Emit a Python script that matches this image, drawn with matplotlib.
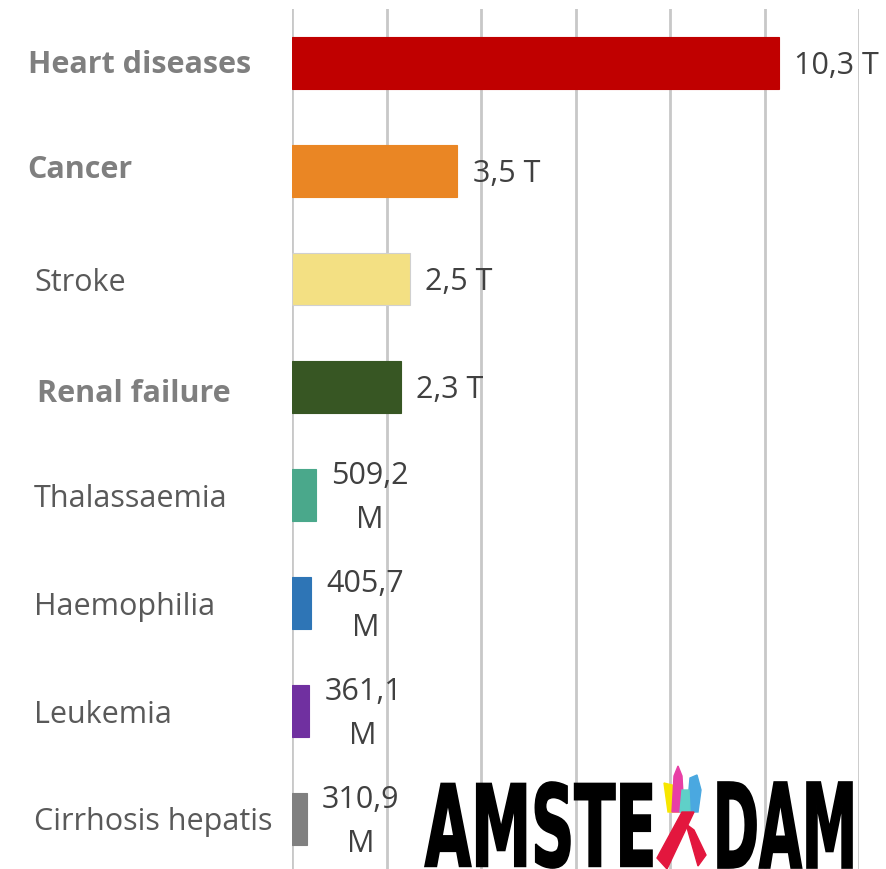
import numpy as np
import matplotlib.pyplot as plt
from matplotlib.transforms import blended_transform_factory, Affine2D, offset_copy
from matplotlib.textpath import TextPath
from matplotlib.font_manager import FontProperties
from matplotlib.patches import PathPatch, Polygon

categories = ['Heart diseases', 'Cancer', 'Stroke', 'Renal failure',
              'Thalassaemia', 'Haemophilia', 'Leukemia', 'Cirrhosis hepatis']
values_t = [10.3, 3.5, 2.5, 2.3, 0.5092, 0.4057, 0.3611, 0.3109]
value_labels = ['10,3 T', '3,5 T', '2,5 T', '2,3 T',
                '509,2\nM', '405,7\nM', '361,1\nM', '310,9\nM']
bold_labels = [True, True, False, True, False, False, False, False]
bar_colors = ['#c00000', '#ea8624', '#f3e083', '#375623',
              '#4aa88b', '#2e75b6', '#7030a0', '#808080']
label_x = [28, 27, 34, 37, 34, 34, 34, 34]
label_dy = [-2, 1, -4, -7, -4, -4, -4, -3]   # px nudges, label vs bar centre

W, H = 886, 869
fig = plt.figure(figsize=(W / 100, H / 100), dpi=100)
ax = fig.add_axes([292 / W, -4 / H, 567 / W, 864 / H])

y = np.arange(len(categories))
edge_colors = ['#d0d0d0' if c == '#f3e083' else c for c in bar_colors]
ax.barh(y, values_t, height=0.49, color=bar_colors,
        edgecolor=edge_colors, linewidth=0.8, zorder=3)
ax.set_xlim(0, 12)
ax.set_ylim(len(categories) - 0.5, -0.5)
ax.set_xticks(np.arange(0, 13, 2))
ax.grid(axis='x', color='#c8c8c8', linewidth=2, zorder=0)
ax.tick_params(left=False, bottom=False, labelleft=False, labelbottom=False)
for s in ax.spines.values():
    s.set_visible(False)

trans = blended_transform_factory(fig.transFigure, ax.transData)
for i, name in enumerate(categories):
    t = offset_copy(trans, fig=fig, y=label_dy[i] * 0.72, units='points')
    ax.text(label_x[i] / W, i, name, transform=t, ha='left', va='center',
            family='Open Sans', fontsize=22,
            fontweight='bold' if bold_labels[i] else 'normal',
            color='#7f7f7f' if bold_labels[i] else '#595959')

for i, (v, lab) in enumerate(zip(values_t, value_labels)):
    ax.annotate(lab, (v, i), xytext=(11, -2), textcoords='offset points',
                ha='left', va='center', multialignment='center',
                family='Open Sans', fontsize=22, color='#404040',
                linespacing=1.6, annotation_clip=False)

# logo overlay (pixel coordinates)
lax = fig.add_axes([0, 0, 1, 1], zorder=5)
lax.set_xlim(0, W)
lax.set_ylim(H, 0)
lax.axis('off')
lax.patch.set_alpha(0)

fp = FontProperties(family='DejaVu Sans', weight='bold')


def put_word(word, left, top, right, bottom):
    p = TextPath((0, 0), word, prop=fp, size=100)
    ext = p.get_extents()
    tr = (Affine2D().translate(-ext.x0, -ext.y0)
          .scale((right - left) / ext.width, -(bottom - top) / ext.height)
          .translate(left, bottom))
    lax.add_patch(PathPatch(tr.transform_path(p), facecolor='black',
                            edgecolor='black', linewidth=1.2))


put_word('AMSTE', 425, 782, 652, 868)
put_word('DAM', 718, 782, 852, 868)

# ribbon with skyline
lax.add_patch(Polygon([(664, 783), (676, 786), (679, 812), (668, 812)],
                      color='#f7e600'))
lax.add_patch(Polygon([(672, 812), (674, 776), (678, 766), (682, 776), (684, 812)],
                      color='#e83fa5'))
lax.add_patch(Polygon([(687, 812), (690, 778), (697, 775), (701, 790), (698, 812)],
                      color='#4aa8e0'))
lax.add_patch(Polygon([(680, 812), (682, 790), (689, 790), (690, 812)],
                      color='#5fd0c8'))
lax.add_patch(Polygon([(657, 858), (682, 812), (694, 812), (667, 869)],
                      color='#e3173e'))
lax.add_patch(Polygon([(686, 824), (694, 830), (706, 855), (698, 866)],
                      color='#e3173e'))

fig.savefig('out.png', dpi=100)
